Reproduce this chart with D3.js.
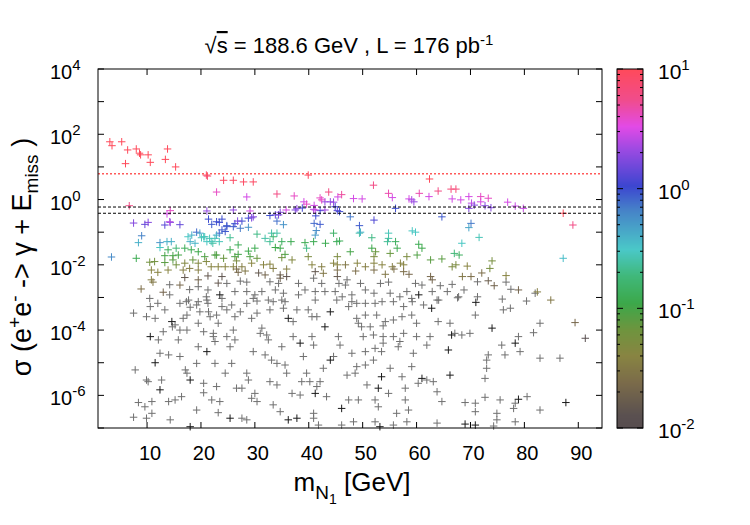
<!DOCTYPE html>
<html>
<head>
<meta charset="utf-8">
<title>sigma vs mN1</title>
<script src="https://d3js.org/d3.v7.min.js"></script>
<style>
body{margin:0;background:#fff;}
text{font-family:"Liberation Sans",Arial,sans-serif;fill:#000;}
</style>
</head>
<body>
<script>
var W=750,H=525;
var L=98,R=602,T=69,B=428;

// [mN1 (GeV), log10 sigma (pb), colour value]
var colouredPts=[
[3.1,1.77,10],[3.5,1.65,10],[5.3,1.77,10],[6.4,1.52,10],[8.0,1.55,10],[8.6,1.42,10],[8.8,1.37,10],[10.2,1.37,10],[10.6,1.14,10],[6.0,1.10,10],
[13.8,1.55,10],[13.4,1.23,10],[15.3,1.00,10],[21.0,0.75,8],[21.2,0.72,8],[24.2,0.59,9],[26.0,0.59,9],[27.9,0.54,9],[29.7,0.54,9],[39.9,0.75,9],
[22.9,0.23,4],[28.5,0.08,3],[34.1,0.17,6],[37.3,0.11,4],[43.7,0.23,6],[42.1,0.05,4],[45.4,0.08,3],[46.1,0.15,5],[48.3,0.03,3],[6.7,-0.19,6],
[39.1,-0.07,3],[39.6,-0.14,4],[41.0,-0.18,3],[43.0,-0.07,2],[44.6,-0.08,2],[44.9,-0.22,1.1],[14.3,-0.34,4],[13.7,-0.44,3],[21.1,-0.35,2],[26.0,-0.32,2],
[29.1,-0.35,3],[28.8,-0.57,1.0],[29.7,-0.53,1.8],[32.8,-0.49,1.0],[33.8,-0.47,1.4],[34.7,-0.39,1.8],[35.8,-0.32,3],[37.8,-0.28,2],[38.8,-0.26,1.1],[40.9,-0.30,2.5],
[42.1,-0.34,1.1],[45.3,-0.34,1.3],[45.7,-0.37,1.0],[7.5,-0.72,1.8],[9.6,-0.76,1.4],[10.2,-0.70,1.8],[13.3,-0.78,1.3],[14.3,-0.70,1.8],[16.1,-0.77,1.4],[14.2,-0.68,2.5],
[21.4,-0.60,1.0],[22.9,-0.68,1.0],[23.9,-0.60,1.0],[24.8,-0.80,0.9],[22.0,-0.76,0.9],[26.3,-0.74,1.0],[27.6,-0.66,1.0],[35.3,-0.77,0.55],[41.3,-0.50,1.0],[41.0,-0.73,0.8],
[47.7,-0.53,0.7],[49.4,-0.80,0.9],[9.0,-1.11,0.65],[8.4,-1.32,0.4],[23.9,-0.93,0.9],[24.5,-0.98,0.9],[23.4,-1.03,0.8],[19.2,-1.00,0.8],[19.8,-1.03,0.45],[41.4,-0.95,0.6],
[41.2,-1.09,0.5],[12.4,-1.32,0.55],[13.7,-1.29,0.4],[14.5,-1.29,0.4],[18.0,-1.29,0.4],[18.9,-1.34,0.38],[18.3,-1.09,0.4],[20.5,-1.14,0.3],[21.1,-1.29,0.3],[21.9,-1.29,0.28],
[22.6,-1.19,0.28],[30.4,-1.06,0.2],[33.1,-1.03,0.25],[34.1,-1.03,0.25],[36.7,-1.29,0.12],[39.3,-1.32,0.12],[40.9,-1.29,0.12],[43.1,-1.34,0.12],[44.6,-1.03,0.15],[45.2,-1.29,0.13],
[45.7,-1.27,0.13],[49.4,-1.03,0.25],[3.4,-1.76,0.6],[8.0,-1.80,0.12],[12.4,-1.47,0.3],[17.6,-1.14,0.3],[20.1,-1.17,0.28],[20.7,-1.14,0.28],[21.6,-1.19,0.28],[22.2,-1.34,0.25],
[15.4,-1.49,0.18],[17.0,-1.49,0.13],[18.2,-1.54,0.12],[19.5,-1.60,0.11],[13.9,-1.54,0.13],[13.3,-1.72,0.1],[14.8,-1.72,0.1],[15.8,-1.70,0.1],[20.7,-1.75,0.09],[22.6,-1.70,0.09],
[10.5,-1.92,0.06],[11.4,-1.90,0.06],[13.3,-1.93,0.08],[14.8,-1.85,0.08],[15.4,-2.00,0.06],[17.0,-1.95,0.045],[18.5,-1.85,0.07],[19.5,-1.95,0.045],[21.0,-1.90,0.045],[21.9,-2.06,0.04],
[10.8,-2.16,0.04],[12.0,-2.23,0.04],[13.9,-2.16,0.04],[16.7,-2.16,0.035],[17.9,-2.11,0.035],[19.5,-2.16,0.035],[10.8,-2.46,0.035],[11.1,-2.53,0.03],[17.0,-2.39,0.015],[19.5,-2.46,0.02],
[21.3,-2.34,0.015],[8.9,-2.74,0.025],[13.0,-2.84,0.02],[16.1,-2.62,0.022],[26.8,-0.66,1.7],[29.4,-0.56,1.7],[23.4,-0.70,1.0],[34.4,-0.47,1.6],[37.5,-0.32,1.7],[41.2,-0.32,2.8],
[43.0,-0.32,2.2],[42.4,-0.01,4],[44.0,-0.07,2],[24.8,-0.83,0.9],[26.0,-0.83,0.9],[27.3,-0.88,0.7],[28.8,-0.85,0.55],[34.1,-0.66,0.75],[42.1,-0.76,0.9],[22.9,-1.09,0.4],
[23.4,-1.29,0.28],[25.4,-1.17,0.22],[26.9,-1.39,0.13],[31.9,-1.19,0.25],[32.8,-1.29,0.22],[33.4,-1.14,0.17],[35.0,-1.29,0.14],[33.8,-1.47,0.11],[34.7,-1.49,0.11],[39.6,-1.49,0.2],
[25.4,-1.54,0.12],[26.9,-1.68,0.1],[28.8,-1.58,0.11],[29.1,-1.75,0.09],[30.0,-1.49,0.12],[22.9,-1.70,0.09],[24.2,-1.80,0.07],[26.3,-1.75,0.09],[26.6,-1.88,0.05],[30.4,-1.80,0.07],
[35.0,-1.78,0.06],[35.6,-1.68,0.09],[39.9,-1.75,0.05],[36.9,-1.85,0.045],[23.2,-2.06,0.04],[24.5,-2.06,0.04],[26.0,-2.06,0.04],[26.6,-2.13,0.025],[27.6,-2.06,0.035],[26.9,-2.23,0.022],
[28.2,-2.19,0.03],[29.4,-1.95,0.04],[31.6,-2.00,0.04],[32.8,-1.98,0.04],[33.4,-2.11,0.035],[35.9,-2.13,0.035],[40.6,-2.00,0.04],[42.4,-2.06,0.035],[30.7,-2.25,0.015],[31.9,-2.31,0.02],
[34.7,-2.31,0.018],[34.7,-2.41,0.018],[35.9,-2.36,0.014],[41.2,-2.21,0.015],[42.7,-2.26,0.03],[23.9,-2.36,0.014],[23.2,-2.56,0.015],[49.9,0.02,3],[55.5,0.06,3],[58.6,0.02,3],
[59.5,-0.07,2],[62.3,0.09,3],[56.1,-0.27,1.0],[52.1,-0.63,1.2],[49.6,-1.00,0.4],[64.7,-0.53,0.9],[51.7,-1.17,0.2],[54.8,-1.03,0.28],[54.8,-1.19,0.25],[56.1,-1.29,0.14],
[59.2,-0.96,0.3],[59.8,-1.00,0.3],[47.7,-1.60,0.1],[51.7,-1.49,0.11],[52.4,-1.60,0.07],[55.1,-1.65,0.07],[56.4,-1.49,0.12],[60.4,-1.37,0.12],[61.0,-1.49,0.11],[60.1,-1.70,0.09],
[62.6,-1.85,0.08],[64.7,-1.82,0.08],[45.3,-1.75,0.05],[52.1,-1.75,0.05],[58.2,-1.75,0.05],[44.6,-1.95,0.04],[45.3,-2.00,0.04],[46.8,-2.00,0.03],[49.0,-1.95,0.04],[50.5,-2.06,0.035],
[52.1,-1.95,0.04],[53.6,-2.00,0.04],[55.5,-2.06,0.035],[57.0,-1.95,0.04],[57.6,-2.00,0.04],[45.3,-2.16,0.025],[48.7,-2.19,0.025],[52.1,-2.16,0.025],[54.2,-2.29,0.03],[55.8,-2.13,0.025],
[57.6,-2.21,0.025],[58.6,-2.29,0.022],[45.3,-2.36,0.016],[62.6,-2.36,0.022],[62.9,-2.46,0.02],[66.6,0.02,3],[68.2,-0.01,3],[69.7,0.09,3],[70.2,-0.11,2.6],[71.9,-0.07,3],
[71.9,0.09,4],[73.3,0.04,4],[69.7,-0.27,1.8],[70.7,-0.17,1.8],[72.7,-0.19,1.8],[73.8,-0.25,1.8],[76.9,-0.08,3],[78.3,-0.20,2.8],[79.8,-0.27,2.8],[87.2,-0.42,10],
[89.0,-0.78,6],[70.1,-0.73,0.7],[69.7,-0.86,0.45],[71.6,-1.16,0.28],[68.4,-1.34,0.3],[67.0,-1.65,0.18],[67.9,-1.70,0.14],[87.2,-1.80,0.35],[66.6,-2.06,0.05],[67.3,-2.00,0.05],
[69.4,-2.04,0.04],[74.0,-1.88,0.055],[73.6,-2.11,0.055],[68.5,-2.36,0.03],[70.1,-2.36,0.025],[72.1,-2.25,0.025],[76.6,-2.33,0.04],[73.3,-2.49,0.018],[74.4,-2.64,0.02],[78.9,-2.77,0.02],
[82.4,-2.83,0.035],[84.9,-3.08,0.03],[52.0,0.44,6],[62.4,0.63,10],[64.0,0.26,6],[66.4,0.32,7],[67.3,0.32,7],[54.8,0.19,4.5],[60.5,0.19,4.5],[59.1,-0.01,2.3],
[54.6,-1.29,0.22],[89.4,-3.77,0.022],[91.3,-4.25,0.012]
];

// points below the colour range: [mN1, log10 sigma]
var grayPts=[
[14.2,-2.61],[17.9,-2.76],[19.5,-2.67],[21.3,-2.77],[21.0,-2.98],[10.5,-3.03],[12.0,-3.18],[14.2,-2.92],[16.1,-3.18],[17.3,-3.13],[19.5,-3.13],[21.3,-3.18],
[24.8,-2.57],[27.3,-2.50],[28.5,-2.53],[32.8,-2.52],[34.4,-2.57],[38.1,-2.57],[40.9,-2.41],[42.4,-2.57],
[26.3,-2.82],[28.5,-2.82],[30.0,-2.92],[31.3,-2.82],[33.8,-2.77],[35.3,-2.87],[39.3,-2.77],[41.2,-2.82],[43.0,-2.82],[30.4,-3.11],[32.5,-3.08],[35.6,-3.13],[41.2,-3.08],
[47.1,-2.46],[45.6,-2.57],[46.8,-2.62],[49.6,-2.57],[53.3,-2.57],[54.8,-2.53],[59.8,-2.57],[61.0,-2.62],[64.4,-2.64],[44.9,-2.82],[48.0,-2.92],[50.5,-2.77],[52.1,-2.87],[55.1,-2.87],[58.2,-2.82],[62.9,-2.82],[65.7,-2.82],[46.2,-2.98],[53.6,-3.13],[59.2,-3.13],[64.1,-3.08],[48.0,-3.13],
[71.3,-2.52],[76.6,-2.53],[66.6,-2.60],[77.5,-2.75],[82.0,-2.87],[68.8,-2.77],[71.3,-2.98],[67.6,-3.01],[75.9,-3.05],[80.4,-3.11],
[7.5,-3.48],[9.9,-3.59],[10.6,-3.28],[11.5,-3.64],[13.3,-3.38],[15.2,-3.84],[14.7,-3.90],[12.1,-4.30],[13.0,-4.05],[15.8,-4.30],[16.1,-4.00],[17.4,-4.00],[16.7,-3.64],[17.4,-3.54],[17.7,-3.08],[18.0,-3.30],[19.2,-3.23],[19.8,-3.44],[21.1,-3.08],[21.4,-3.44],[21.7,-3.59],[22.9,-3.54],[23.9,-3.03],[23.9,-3.28],[24.8,-3.38],[25.7,-3.23],
[19.5,-3.79],[20.5,-4.05],[22.3,-4.10],[22.6,-4.35],[23.2,-3.79],[24.8,-4.20],[26.0,-4.00],[26.3,-3.59],[27.3,-3.44],[28.5,-3.18],[29.4,-3.64],[29.7,-3.03],[30.4,-3.48],[31.3,-3.94],[32.8,-3.38],[33.4,-3.13],[35.0,-3.08],[35.3,-3.33],[37.1,-3.74],[37.8,-3.38],[38.1,-2.92],[39.9,-3.38],[40.6,-3.59],[41.5,-3.59],[45.2,-3.08],[47.4,-3.28],[48.9,-3.64],[49.2,-3.79],
[7.8,-5.22],[9.9,-5.53],[10.2,-5.58],[12.4,-4.71],[14.0,-4.76],[16.1,-4.81],[12.7,-5.53],[8.4,-6.22],[9.6,-6.35],[10.9,-6.19],[10.9,-6.55],[7.5,-6.67],[9.9,-6.70],[14.0,-6.19],[15.2,-6.14],[16.4,-6.04],[14.3,-6.75],[17.4,-5.32],[17.1,-5.22],[19.2,-5.02],[19.5,-4.51],[19.2,-6.45],[20.5,-5.63],[20.5,-5.92],[22.3,-4.20],[22.6,-5.02],[22.9,-5.73],[22.0,-6.14],[23.5,-6.19],[23.2,-6.53],[24.5,-5.32],[25.4,-4.51],[25.7,-5.02],[26.3,-4.30],[26.6,-5.78],[27.6,-5.78],[27.6,-6.70],[28.5,-5.32],[28.8,-5.53],[29.7,-4.66],[30.0,-5.94],[30.4,-6.19],[29.4,-6.09],[31.0,-4.10],[32.2,-4.15],[31.9,-4.76],[33.1,-4.92],[32.5,-4.30],[32.8,-5.58],[34.1,-5.68],[33.4,-6.29],[35.0,-4.51],[34.1,-5.02],[35.6,-5.07],[35.9,-5.32],[36.9,-5.94],[38.4,-5.99],[38.7,-5.58],[37.1,-4.20],[39.0,-4.81],[39.6,-5.32],[40.2,-5.58],[40.6,-4.20],[40.9,-4.46],[41.5,-5.73],[42.1,-5.58],[42.7,-5.17],[43.3,-6.04],[44.6,-4.81],[45.5,-4.20],[45.8,-4.46],[47.1,-5.38],[47.4,-6.14],[48.3,-6.81],[48.9,-5.12],[40.9,-6.55],[40.9,-6.70],[34.7,-6.50],[28.5,-6.75],
[48.9,-3.18],[50.5,-3.18],[52.3,-3.18],[55.7,-3.13],[56.9,-2.98],[57.6,-3.28],[59.1,-3.03],[61.3,-3.23],[63.8,-3.08],[67.8,-2.98],[70.9,-3.54],[76.1,-3.38],[77.4,-3.33],
[50.5,-3.54],[52.6,-3.54],[54.2,-3.74],[55.7,-3.69],[57.3,-3.59],[59.1,-3.54],[60.0,-3.79],[64.0,-3.74],[66.2,-3.79],[49.8,-3.90],[51.4,-3.90],[53.8,-3.87],[50.1,-4.20],[52.0,-4.15],[53.8,-4.20],[55.7,-4.20],[56.9,-4.35],[57.6,-4.10],[60.0,-4.20],[62.5,-4.20],[67.1,-4.10],[68.4,-4.15],[69.9,-4.10],[75.8,-4.46],[78.9,-4.20],[81.7,-4.08],[82.9,-3.79],
[48.0,-4.71],[50.5,-4.66],[52.3,-4.56],[53.8,-4.40],[53.5,-4.66],[56.6,-4.51],[59.4,-4.71],[61.9,-4.46],[73.3,-4.76],[76.4,-4.76],[79.2,-4.66],[82.9,-4.86],[86.6,-4.86],[50.5,-5.07],[52.0,-4.92],[55.1,-5.17],[59.1,-5.12],[61.9,-5.53],[73.0,-4.92],[73.0,-5.17],[72.7,-5.48],[48.6,-5.32],[50.8,-5.68],[54.8,-5.94],[57.3,-5.43],[57.9,-5.78],[60.3,-5.63],[63.1,-5.58],[63.8,-5.89],
[49.2,-6.14],[52.3,-6.14],[52.9,-6.35],[56.3,-6.55],[57.9,-6.14],[58.5,-6.45],[64.7,-6.19],[69.0,-6.22],[70.9,-6.24],[70.9,-6.50],[72.7,-6.06],[75.5,-6.14],[74.9,-6.55],[78.3,-6.24],[78.0,-6.40],[80.5,-6.04],[82.9,-6.45],[52.3,-6.81],[58.2,-6.81],[63.8,-6.85],[74.3,-6.94],[74.9,-6.75],[78.3,-6.81],[41.8,-6.91],[46.1,-6.91],[55.7,-6.91]
];

// darker (overlapping) points below the colour range
var blackPts=[
[23.5,-2.92],[60.4,-2.92],[71.0,-3.15],[14.6,-3.74],[10.6,-4.20],[36.2,-3.64],[43.0,-3.90],[44.0,-3.44],[11.5,-5.00],[12.4,-5.83],[18.0,-5.53],[21.1,-4.66],
[25.4,-6.70],[36.2,-6.75],[37.8,-6.70],[38.4,-4.40],[41.2,-5.94],[44.0,-4.92],[46.1,-6.40],[18.0,-6.96],[62.8,-3.33],[66.5,-4.15],[74.0,-3.94],[65.9,-4.61],
[78.3,-4.40],[53.5,-5.43],[61.0,-5.48],[66.2,-5.38],[52.9,-5.78],[78.9,-6.12],[87.7,-6.22],[53.2,-6.96],[69.0,-6.88],[70.9,-6.91]
];

var redLimit=6.2;          // pb, dotted red line
var blackLimits=[0.59,0.38]; // pb, dashed black lines
var xTicks=[10,20,30,40,50,60,70,80,90];
var yTickExp=[4,2,0,-2,-4,-6];
var cbTickExp=[1,0,-1,-2];

var svg=d3.select("body").append("svg").attr("width",W).attr("height",H);

var x=d3.scaleLinear().domain([0.9,94.4]).range([L,R]);
var y=d3.scaleLog().domain([1e-7,1e4]).range([B,T]);
var cb=d3.scaleLog().domain([1e-2,10]).range([B,T]);

var colour=d3.scaleLog()
	.domain([0.01,0.0126,0.0234,0.04,0.066,0.11,0.186,0.31,0.66,1.05,2.1,3.3,5.5,10])
	.range(["#574d4f","#5a5050","#7a6a4a","#888442","#6e943e","#3ca84a","#40b87a","#4ac8c8","#4682c8","#3c46d0","#9a4ae2","#e24ae6","#f04c8c","#ff4a5a"])
	.interpolate(d3.interpolateRgb)
	.clamp(true);

var plus="M-3.75,0H3.75M0,-3.75V3.75";
function place(d){return "translate("+x(d[0])+","+y(Math.pow(10,d[1]))+")";}

// gray points first, then coloured
svg.append("g").selectAll("path").data(grayPts).enter().append("path")
	.attr("d",plus).attr("transform",place)
	.attr("stroke","#707070").attr("stroke-width",1).attr("fill","none");
svg.append("g").selectAll("path").data(blackPts).enter().append("path")
	.attr("d",plus).attr("transform",place)
	.attr("stroke","#1a1a1a").attr("stroke-width",1).attr("fill","none");
svg.append("g").selectAll("path").data(colouredPts).enter().append("path")
	.attr("d",plus).attr("transform",place)
	.attr("stroke",function(d){return colour(d[2]);}).attr("stroke-width",1).attr("fill","none");

// limit lines
svg.append("line").attr("x1",L).attr("x2",R).attr("y1",y(redLimit)).attr("y2",y(redLimit))
	.attr("stroke","#ff5a5a").attr("stroke-width",1.5).attr("stroke-dasharray","2,2");
svg.selectAll(".lim").data(blackLimits).enter().append("line")
	.attr("x1",L).attr("x2",R).attr("y1",function(d){return y(d);}).attr("y2",function(d){return y(d);})
	.attr("stroke","#000").attr("stroke-width",1).attr("stroke-dasharray","3,2");

// frame
svg.append("rect").attr("x",L).attr("y",T).attr("width",R-L).attr("height",B-T)
	.attr("fill","none").attr("stroke","#000").attr("stroke-width",1);

// x ticks (bottom and top, inward)
xTicks.forEach(function(t){
	svg.append("line").attr("x1",x(t)).attr("x2",x(t)).attr("y1",B).attr("y2",B-6).attr("stroke","#000");
	svg.append("line").attr("x1",x(t)).attr("x2",x(t)).attr("y1",T).attr("y2",T+6).attr("stroke","#000");
	svg.append("text").attr("x",x(t)+3).attr("y",460).attr("text-anchor","middle").attr("font-size",20).text(t);
});

// y ticks at every decade, labels every second
d3.range(-7,5).forEach(function(e){
	var py=y(Math.pow(10,e));
	svg.append("line").attr("x1",L).attr("x2",L+6).attr("y1",py).attr("y2",py).attr("stroke","#000");
	svg.append("line").attr("x1",R).attr("x2",R-6).attr("y1",py).attr("y2",py).attr("stroke","#000");
});
function sciLabel(t,e){
	t.append("tspan").text("10");
	t.append("tspan").attr("dy",-9).attr("font-size",15).text(e);
}
yTickExp.forEach(function(e){
	var t=svg.append("text").attr("x",50).attr("y",y(Math.pow(10,e))+10).attr("font-size",20);
	sciLabel(t,e);
});

// colour bar
var cbX=617,cbW=26;
var cbg=svg.append("g");
d3.range(T,B).forEach(function(py){
	cbg.append("rect").attr("x",cbX).attr("y",py).attr("width",cbW).attr("height",1.2)
		.attr("fill",colour(cb.invert(py+0.5)));
});
cbg.append("rect").attr("x",cbX).attr("y",T).attr("width",cbW).attr("height",B-T)
	.attr("fill","none").attr("stroke","#000").attr("stroke-width",1);
cb.ticks(30).forEach(function(v){
	var py=cb(v);
	var major=Math.abs(Math.log10(v)-Math.round(Math.log10(v)))<1e-6;
	var len=major?6:3;
	cbg.append("line").attr("x1",cbX).attr("x2",cbX+len).attr("y1",py).attr("y2",py).attr("stroke","#000");
	cbg.append("line").attr("x1",cbX+cbW).attr("x2",cbX+cbW-len).attr("y1",py).attr("y2",py).attr("stroke","#000");
});
cbTickExp.forEach(function(e){
	var t=svg.append("text").attr("x",658).attr("y",cb(Math.pow(10,e))+10).attr("font-size",21);
	sciLabel(t,e);
});

// title
var title=svg.append("text").attr("x",349).attr("y",53).attr("text-anchor","middle").attr("font-size",22);
title.append("tspan").text("\u221A");
title.append("tspan").attr("text-decoration","overline").text("s");
title.append("tspan").text(" = 188.6 GeV , L = 176 pb");
title.append("tspan").attr("dy",-8).attr("font-size",15).text("-1");

// x label
var xl=svg.append("text").attr("x",352).attr("y",491).attr("text-anchor","middle").attr("font-size",26);
xl.append("tspan").text("m");
xl.append("tspan").attr("dy",8).attr("font-size",19).text("N");
xl.append("tspan").attr("dy",5).attr("font-size",14).text("1");
xl.append("tspan").attr("dy",-13).text(" [GeV]");

// y label
var yl=svg.append("text").attr("transform","translate(31,257) rotate(-90)").attr("text-anchor","middle").attr("font-size",27);
yl.append("tspan").text("\u03C3 (e");
yl.append("tspan").attr("dy",-10).attr("font-size",19).text("+");
yl.append("tspan").attr("dy",10).text("e");
yl.append("tspan").attr("dy",-10).attr("font-size",19).text("-");
yl.append("tspan").attr("dy",10).text(" -> \u03B3 + E");
yl.append("tspan").attr("dy",7).attr("font-size",19).text("miss");
yl.append("tspan").attr("dy",-7).text(" )");
</script>
</body>
</html>
